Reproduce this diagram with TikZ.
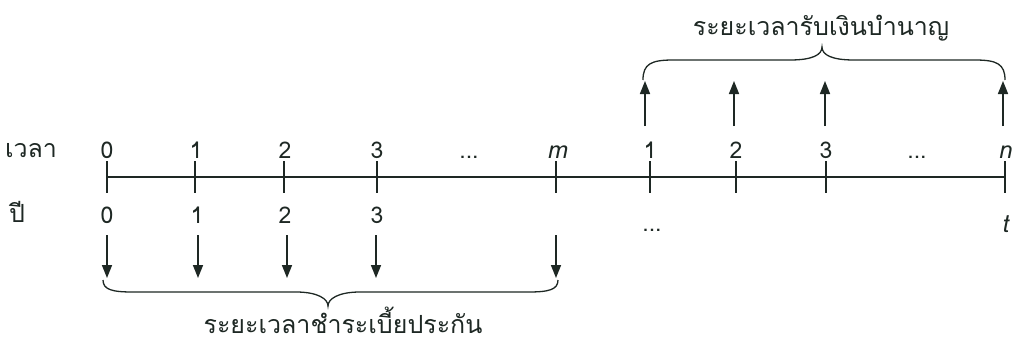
\documentclass[tikz,border=0pt]{standalone}
\usepackage{fontspec}
\newfontfamily\thaifont[Script=Thai]{Loma}
\newfontfamily\thaiit[Script=Thai,FakeSlant=0.2]{Loma}
\usetikzlibrary{arrows.meta}
\definecolor{ink}{HTML}{1E2824}
\begin{document}
\begin{tikzpicture}[x=1pt,y=-1pt,
  lbl/.style={font=\thaifont\fontsize{23}{27}\selectfont, text=ink, inner sep=0pt, anchor=base},
  ilbl/.style={font=\thaiit\fontsize{24}{27}\selectfont, text=ink, inner sep=0pt, anchor=base},
  title/.style={font=\thaifont\fontsize{25}{30}\selectfont, text=ink, inner sep=0pt, anchor=base},
  axisline/.style={line width=1.4pt, draw=ink},
  tickmark/.style={line width=1.4pt, draw=ink},
  flow/.style={line width=1.6pt, draw=ink, -{Triangle[length=13pt,width=10pt]}},
  bracepath/.style={line width=1.3pt, draw=ink}]
\fill[white] (0,0) rectangle (1013,343);
\useasboundingbox (0,0) rectangle (1013,343);

% axis
\coordinate (a0) at (107,177);
\coordinate (aEnd) at (1005,177);
\draw[axisline] (a0) -- (aEnd);

% ticks
\foreach \x/\n in {107/t0,195/t1,284/t2,377/t3,556/tm,650/u1,736/u2,826/u3,1005/un}{
  \coordinate (\n top) at (\x,161);
  \coordinate (\n bot) at (\x,193);
  \draw[tickmark] (\n top) -- (\n bot);
}

% row labels
\node[title] (time) at (31,157) {เวลา};
\node[title] (year) at (17,222) {ปี};

% top labels
\node[lbl] (l0) at (107,158) {0};
\node[lbl] (l1) at (196,158) {1};
\node[lbl] (l2) at (285,158) {2};
\node[lbl] (l3) at (377,158) {3};
\node[lbl] (ldots) at (469,158) {...};
\node[ilbl] (lm) at (557,158) {m};
\node[lbl] (r1) at (650,158) {1};
\node[lbl] (r2) at (736,158) {2};
\node[lbl] (r3) at (826,158) {3};
\node[lbl] (rdots) at (917,158) {...};
\node[ilbl] (rn) at (1005,158) {n};

% bottom labels
\node[lbl] (b0) at (107,223) {0};
\node[lbl] (b1) at (197,223) {1};
\node[lbl] (b2) at (285,223) {2};
\node[lbl] (b3) at (377,223) {3};
\node[lbl] (bdots) at (652,231) {...};
\node[ilbl] (bt) at (1005,232) {t};

% down arrows (premiums)
\foreach \x/\n in {107/d0,198/d1,287/d2,376/d3,556/dm}{
  \coordinate (\n s) at (\x,235);
  \coordinate (\n e) at (\x,278);
  \draw[flow] (\n s) -- (\n e);
}

% up arrows (annuity)
\foreach \x/\n in {645/p1,734/p2,825/p3,1003/pn}{
  \coordinate (\n s) at (\x,126);
  \coordinate (\n e) at (\x,81);
  \draw[flow] (\n s) -- (\n e);
}

% top brace
\coordinate (tbL) at (643,80);
\coordinate (tbM) at (822,47);
\coordinate (tbR) at (1005,80);
\draw[bracepath] (tbL) .. controls +(0,-16) and +(-22,0) .. ++(30,-20) -- (790,60)
  .. controls +(22,0) and +(0,8) .. (tbM)
  .. controls +(0,8) and +(-22,0) .. (854,60) -- (975,60)
  .. controls +(22,0) and +(0,-16) .. (tbR);
\node[title] (toptext) at (821,35) {ระยะเวลารับเงินบำนาญ};

% bottom brace
\coordinate (bbL) at (103,280);
\coordinate (bbM) at (328,306);
\coordinate (bbR) at (558,280);
\draw[bracepath] (bbL) .. controls +(0,10) and +(-20,0) .. (133,292) -- (296,292)
  .. controls +(22,0) and +(0,-7) .. (bbM)
  .. controls +(0,-7) and +(-22,0) .. (360,292) -- (528,292)
  .. controls +(20,0) and +(0,10) .. (bbR);
\node[title] (bottext) at (343,333) {ระยะเวลาชำระเบี้ยประกัน};
\end{tikzpicture}
\end{document}
